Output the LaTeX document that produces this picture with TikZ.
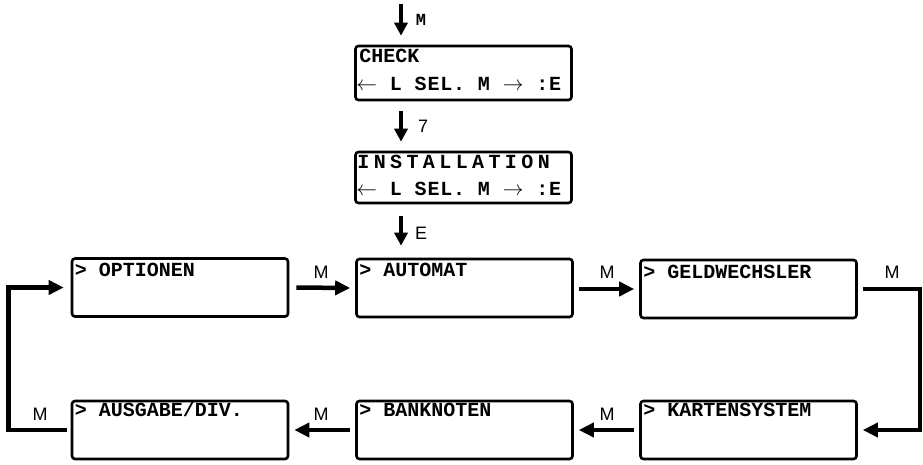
\documentclass[tikz,border=0pt]{standalone}
\usepackage{fontspec}
\setmainfont{Liberation Sans}
\newfontfamily\boxfont{Liberation Mono}
\usetikzlibrary{arrows.meta,calc}
\begin{document}
\begin{tikzpicture}[x=1pt,y=-1pt,
  lcd/.style={draw, line width=2.6pt, rounded corners=3pt, inner sep=0pt,
              minimum width=216pt, minimum height=#1},
  lcd/.default=58pt,
  txt/.style={inner sep=0pt, anchor=base west, font=\boxfont\bfseries\fontsize{20}{20}\selectfont},
  harrow/.style={line width=4.5pt, -{Triangle[length=15pt,width=14pt]}},
  varrow/.style={line width=4pt, -{Triangle[length=13pt,width=13pt]}},
  lab/.style={inner sep=0pt, font=\fontsize{18}{18}\selectfont}
]
\useasboundingbox (0,0) rectangle (923,465);

% top boxes
\node[lcd=54pt] (chk) at (463.5,73) {};
\node[lcd=51pt] (inst) at (463.5,177.5) {};
\node[txt] (chkt) at ($(chk.north west)+(5,18)$) {CHECK};
\node[txt] (chkl) at ($(chk.north west)+(2,46)$) {\addfontfeature{LetterSpace=4}$\leftarrow$ L SEL. M $\rightarrow$ :E};
\node[txt] (instt) at ($(inst.north west)+(3,18)$) {\addfontfeature{LetterSpace=22}INSTALLATION};
\node[txt] (instl) at ($(inst.north west)+(2,45)$) {\addfontfeature{LetterSpace=4}$\leftarrow$ L SEL. M $\rightarrow$ :E};

% main boxes
\node[lcd] (opt) at (180,287.5) {};
\node[lcd] (aut) at (464.5,288) {};
\node[lcd] (geld) at (748.5,289) {};
\node[lcd] (ausg) at (180,430) {};
\node[lcd] (bank) at (464.5,430) {};
\node[lcd] (kart) at (748.5,430) {};

\node[txt] (optt) at ($(opt.north west)+(4,19)$) {> OPTIONEN};
\node[txt] (autt) at ($(aut.north west)+(4,19)$) {> AUTOMAT};
\node[txt] (geldt) at ($(geld.north west)+(4,20)$) {> GELDWECHSLER};
\node[txt] (ausgt) at ($(ausg.north west)+(4,17)$) {> AUSGABE/DIV.};
\node[txt] (bankt) at ($(bank.north west)+(4,17)$) {> BANKNOTEN};
\node[txt] (kartt) at ($(kart.north west)+(4,17)$) {> KARTENSYSTEM};

% vertical arrows
\coordinate (top) at (401,4);
\draw[varrow, shorten >=9pt] (top) -- (top |- chk.north);
\draw[varrow, shorten <=10pt, shorten >=9pt] (chk.south -| top) -- (inst.north -| top);
\draw[varrow, shorten <=12pt, shorten >=12pt] (inst.south -| top) -- (aut.north -| top);
\node[lab, font=\boxfont\bfseries\fontsize{17}{17}\selectfont] (lm) at (421,20) {M};
\node[lab] (l7) at (423,126) {7};
\node[lab] (le) at (421,233) {E};

% horizontal arrows
\draw[harrow, shorten <=7pt, shorten >=5pt] (opt.east) -- (aut.west);
\draw[harrow, shorten <=5pt, shorten >=5pt] (aut.east |- geld.east) -- (geld.west);
\draw[harrow, shorten <=5pt, shorten >=5pt] (geld.east) -- ++(62,0) |- (kart.east);
\draw[harrow, shorten <=5pt, shorten >=5pt] (kart.west) -- (bank.east);
\draw[harrow, shorten <=5pt, shorten >=5pt] (bank.west) -- (ausg.east);
\draw[harrow, shorten <=4pt, shorten >=7pt] (ausg.west) -- ++(-62,0) |- (opt.west);

\node[lab] (m1) at (321,272) {M};
\node[lab] (m2) at (607,272) {M};
\node[lab] (m3) at (892,272) {M};
\node[lab] (m4) at (607,414) {M};
\node[lab] (m5) at (321,414) {M};
\node[lab] (m6) at (40,414) {M};
\end{tikzpicture}
\end{document}
